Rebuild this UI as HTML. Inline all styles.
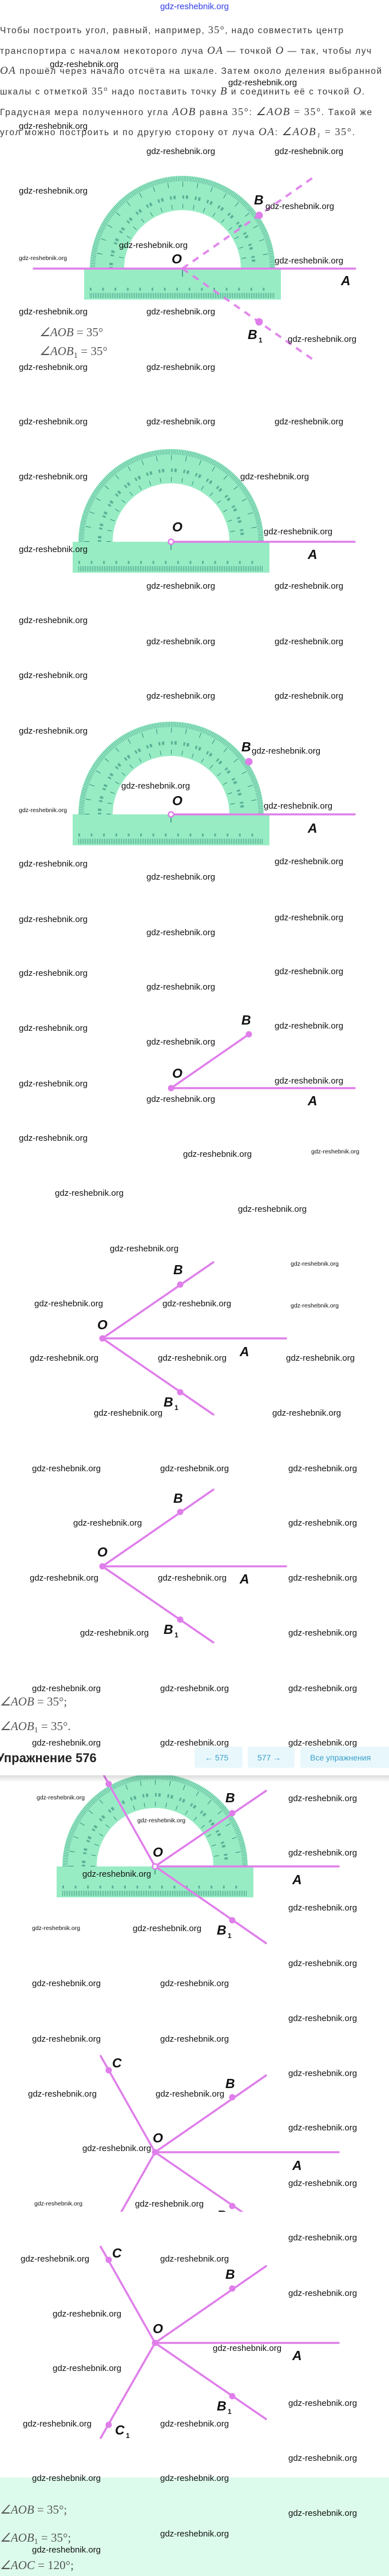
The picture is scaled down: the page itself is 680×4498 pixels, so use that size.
<!DOCTYPE html>
<html><head><meta charset="utf-8"><style>
html,body{margin:0;padding:0;background:#fff;}
svg{display:block;}
.w{font-family:"Liberation Sans",sans-serif;font-size:15px;fill:#111;}
.ws{font-family:"Liberation Sans",sans-serif;font-size:10.5px;fill:#111;}
.p{font-family:"Liberation Sans",sans-serif;font-size:15.5px;fill:#3a3a3a;}
.m{font-family:"Liberation Serif",serif;font-style:italic;}
.mn{font-family:"Liberation Serif",serif;}
.lb{font-family:"Liberation Sans",sans-serif;font-size:23px;font-weight:bold;font-style:italic;fill:#111;}
.sb{font-family:"Liberation Sans",sans-serif;font-size:12px;font-weight:bold;fill:#111;}
.mt{font-family:"Liberation Serif",serif;font-size:21px;fill:#555;}
.pk{stroke:#df7eea;stroke-width:3.5;fill:none;stroke-linecap:round;}
</style></head><body>
<svg width="680" height="4498" viewBox="0 0 680 4498" xmlns="http://www.w3.org/2000/svg">
<defs>
<symbol id="prot" overflow="visible">
  <rect x="-172" y="0" width="344" height="54" fill="#98ecc4"/>
  <path d="M-162 0 A162 162 0 0 1 162 0 Z" fill="#98ecc4"/>
  <path d="M-102 0 A102 102 0 0 1 102 0 Z" fill="#fff"/>
  <path d="M-157 0 A157 157 0 0 1 157 0" fill="none" stroke="#2e8c7a" stroke-width="9" stroke-dasharray="0.7 2.04" opacity="0.8"/>
  <path d="M-147 0 A147 147 0 0 1 147 0" fill="none" stroke="#2e8c7a" stroke-width="9" stroke-dasharray="1 24.66"/>
  <path d="M-125 0 A125 125 0 0 1 125 0" fill="none" stroke="#2e8c7a" stroke-width="6" stroke-dasharray="3 3 4 11.8" opacity="0.6"/>
  <path d="M-109 0 A109 109 0 0 1 109 0" fill="none" stroke="#2e8c7a" stroke-width="8" stroke-dasharray="1 18.02"/>
  <line x1="-162" y1="47" x2="162" y2="47" stroke="#2e8c7a" stroke-width="9" stroke-dasharray="0.8 2.2"/>
  <line x1="-162" y1="36" x2="162" y2="36" stroke="#2e8c7a" stroke-width="5" stroke-dasharray="3 18.6" opacity="0.6"/>
  <line x1="0" y1="0" x2="0" y2="14" stroke="#2e8c7a" stroke-width="1.5"/>
</symbol>
</defs>

<!-- top blue watermark -->
<text x="340" y="16" text-anchor="middle" font-family="Liberation Sans,sans-serif" font-size="15" fill="#3340d8" stroke="#8890ff" stroke-width="0.4">gdz-reshebnik.org</text>

<!-- paragraph -->
<text class="p" x="0" y="58" textLength="600" lengthAdjust="spacing">Чтобы построить угол, равный, например, <tspan class="mn" font-size="18">35°</tspan>, надо совместить центр</text>
<text class="p" x="0" y="94" textLength="649" lengthAdjust="spacing">транспортира с началом некоторого луча <tspan class="m" font-size="19">OA</tspan> — точкой <tspan class="m" font-size="19">O</tspan> — так, чтобы луч</text>
<text class="p" x="0" y="129" textLength="667" lengthAdjust="spacing"><tspan class="m" font-size="19">OA</tspan> прошёл через начало отсчёта на шкале. Затем около деления выбранной</text>
<text class="p" x="0" y="165" textLength="637" lengthAdjust="spacing">шкалы с отметкой <tspan class="mn" font-size="18">35°</tspan> надо поставить точку <tspan class="m" font-size="19">B</tspan> и соединить её с точкой <tspan class="m" font-size="19">O</tspan>.</text>
<text class="p" x="0" y="201" textLength="650" lengthAdjust="spacing">Градусная мера полученного угла <tspan class="m" font-size="19">AOB</tspan> равна <tspan class="mn" font-size="18">35°</tspan>: <tspan class="m" font-size="19">∠AOB</tspan> <tspan class="mn" font-size="18">= 35°</tspan>. Такой же</text>
<text class="p" x="0" y="236" textLength="620" lengthAdjust="spacing">угол можно построить и по другую сторону от луча <tspan class="m" font-size="19">OA</tspan>: <tspan class="m" font-size="19">∠AOB₁</tspan> <tspan class="mn" font-size="18">= 35°</tspan>.</text>

<!-- Figure 1 -->
<use href="#prot" x="319" y="469"/>
<line class="pk" x1="59" y1="469" x2="621" y2="469"/>
<line x1="319" y1="469" x2="553" y2="306" stroke="#df7eea" stroke-width="4" stroke-dasharray="12 10" opacity="0.9"/>
<line x1="319" y1="469" x2="553" y2="632" stroke="#df7eea" stroke-width="4" stroke-dasharray="12 10" opacity="0.9"/>
<circle cx="453" cy="376" r="6.5" fill="#df7eea"/>
<circle cx="453" cy="562" r="6.5" fill="#df7eea"/>
<text class="lb" x="444" y="357">B</text>
<text class="lb" x="300" y="460">O</text>
<text class="lb" x="596" y="498">A</text>
<text class="lb" x="433" y="592">B</text><text class="sb" x="452" y="598">1</text>
<text class="mt" x="69" y="587" font-size="24"><tspan class="m">∠AOB</tspan> = 35°</text>
<text class="mt" x="69" y="620" font-size="24"><tspan class="m">∠AOB</tspan><tspan font-size="15" dy="5">1</tspan><tspan dy="-5"> = 35°</tspan></text>

<!-- Figure 2 -->
<use href="#prot" x="299" y="946"/>
<line class="pk" x1="299" y1="946" x2="620" y2="946"/>
<circle cx="299" cy="946" r="4.5" fill="#fff" stroke="#df7eea" stroke-width="2.5"/>
<text class="lb" x="301" y="928">O</text>
<text class="lb" x="538" y="976">A</text>

<!-- Figure 3 -->
<use href="#prot" x="299" y="1422"/>
<line class="pk" x1="299" y1="1422" x2="620" y2="1422"/>
<circle cx="299" cy="1422" r="4.5" fill="#fff" stroke="#df7eea" stroke-width="2.5"/>
<circle cx="435" cy="1330" r="6.5" fill="#df7eea"/>
<text class="lb" x="422" y="1312">B</text>
<text class="lb" x="301" y="1406">O</text>
<text class="lb" x="538" y="1454">A</text>

<!-- Figure 4 -->
<line class="pk" x1="299" y1="1900" x2="620" y2="1900"/>
<line class="pk" x1="299" y1="1900" x2="435" y2="1806"/>
<circle cx="299" cy="1900" r="5.5" fill="#df7eea"/>
<circle cx="435" cy="1806" r="5.5" fill="#df7eea"/>
<text class="lb" x="422" y="1789">B</text>
<text class="lb" x="301" y="1882">O</text>
<text class="lb" x="538" y="1930">A</text>

<!-- Figure 5 -->
<line class="pk" x1="179" y1="2337" x2="500" y2="2337"/>
<line class="pk" x1="179" y1="2337" x2="373" y2="2204"/>
<line class="pk" x1="179" y1="2337" x2="373" y2="2470"/>
<circle cx="179" cy="2337" r="5.5" fill="#df7eea"/>
<circle cx="315" cy="2243" r="5.5" fill="#df7eea"/>
<circle cx="315" cy="2431" r="5.5" fill="#df7eea"/>
<text class="lb" x="303" y="2225">B</text>
<text class="lb" x="170" y="2321">O</text>
<text class="lb" x="419" y="2368">A</text>
<text class="lb" x="286" y="2456">B</text><text class="sb" x="305" y="2462">1</text>

<!-- Figure 6 -->
<line class="pk" x1="179" y1="2735" x2="500" y2="2735"/>
<line class="pk" x1="179" y1="2735" x2="373" y2="2601"/>
<line class="pk" x1="179" y1="2735" x2="373" y2="2868"/>
<circle cx="179" cy="2735" r="5.5" fill="#df7eea"/>
<circle cx="315" cy="2640" r="5.5" fill="#df7eea"/>
<circle cx="315" cy="2828" r="5.5" fill="#df7eea"/>
<text class="lb" x="303" y="2624">B</text>
<text class="lb" x="170" y="2718">O</text>
<text class="lb" x="419" y="2765">A</text>
<text class="lb" x="286" y="2853">B</text><text class="sb" x="305" y="2859">1</text>

<text class="mt" x="0" y="2978"><tspan class="m">∠AOB</tspan> = 35°;</text>
<text class="mt" x="0" y="3021"><tspan class="m">∠AOB</tspan><tspan font-size="14" dy="4">1</tspan><tspan dy="-4"> = 35°.</tspan></text>

<!-- Figure 7 -->
<use href="#prot" x="271" y="3259"/>
<line class="pk" x1="271" y1="3259" x2="592" y2="3259"/>
<line class="pk" x1="271" y1="3259" x2="465" y2="3127"/>
<line class="pk" x1="271" y1="3259" x2="465" y2="3393"/>
<line class="pk" x1="271" y1="3259" x2="176" y2="3090"/>
<circle cx="271" cy="3259" r="4.5" fill="#fff" stroke="#df7eea" stroke-width="2.5"/>
<circle cx="406" cy="3166" r="5.5" fill="#df7eea"/>
<circle cx="406" cy="3353" r="5.5" fill="#df7eea"/>
<circle cx="190" cy="3115" r="5.5" fill="#df7eea"/>
<text class="lb" x="394" y="3147">B</text>
<text class="lb" x="267" y="3242">O</text>
<text class="lb" x="511" y="3290">A</text>
<text class="lb" x="379" y="3378">B</text><text class="sb" x="398" y="3384">1</text>

<!-- sticky bar -->
<defs><linearGradient id="sh" x1="0" y1="0" x2="0" y2="1"><stop offset="0" stop-color="#000" stop-opacity="0.14"/><stop offset="1" stop-color="#000" stop-opacity="0"/></linearGradient></defs>
<rect x="0" y="3100" width="680" height="12" fill="url(#sh)"/>
<rect x="0" y="3034" width="680" height="66" fill="#fff"/>
<text x="-6" y="3077" font-family="Liberation Sans,sans-serif" font-size="22" font-weight="bold" fill="#222">Упражнение 576</text>
<rect x="340" y="3050" width="84" height="37" rx="4" fill="#e8f7fc"/>
<rect x="433" y="3050" width="82" height="37" rx="4" fill="#e8f7fc"/>
<rect x="525" y="3050" width="160" height="37" rx="4" fill="#e8f7fc"/>
<text x="358" y="3074" font-family="Liberation Sans,sans-serif" font-size="14" fill="#3aa0c8">←  575</text>
<text x="450" y="3074" font-family="Liberation Sans,sans-serif" font-size="14" fill="#3aa0c8">577  →</text>
<text x="542" y="3074" font-family="Liberation Sans,sans-serif" font-size="14" fill="#3aa0c8">Все упражнения</text>

<!-- Figure 8 (clipped) -->
<defs><clipPath id="c8"><rect x="0" y="3500" width="680" height="362"/></clipPath></defs>
<g clip-path="url(#c8)">
<line class="pk" x1="271" y1="3758" x2="592" y2="3758"/>
<line class="pk" x1="271" y1="3758" x2="465" y2="3624"/>
<line class="pk" x1="271" y1="3758" x2="465" y2="3891"/>
<line class="pk" x1="271" y1="3758" x2="176" y2="3590"/>
<line class="pk" x1="271" y1="3758" x2="176" y2="3926"/>
<circle cx="271" cy="3758" r="5.5" fill="#df7eea"/>
<circle cx="406" cy="3662" r="5.5" fill="#df7eea"/>
<circle cx="406" cy="3852" r="5.5" fill="#df7eea"/>
<circle cx="190" cy="3615" r="5.5" fill="#df7eea"/>
<text class="lb" x="196" y="3610">C</text>
<text class="lb" x="394" y="3646">B</text>
<text class="lb" x="267" y="3741">O</text>
<text class="lb" x="511" y="3789">A</text>
<text class="lb" x="379" y="3876">B</text>
</g>

<!-- green section -->
<rect x="0" y="4326" width="680" height="172" fill="#dcfbec"/>

<!-- Figure 9 -->
<line class="pk" x1="271" y1="4091" x2="592" y2="4091"/>
<line class="pk" x1="271" y1="4091" x2="465" y2="3957"/>
<line class="pk" x1="271" y1="4091" x2="465" y2="4224"/>
<line class="pk" x1="271" y1="4091" x2="176" y2="3923"/>
<line class="pk" x1="271" y1="4091" x2="176" y2="4257"/>
<circle cx="271" cy="4091" r="5.5" fill="#df7eea"/>
<circle cx="406" cy="3996" r="5.5" fill="#df7eea"/>
<circle cx="406" cy="4184" r="5.5" fill="#df7eea"/>
<circle cx="190" cy="3946" r="5.5" fill="#df7eea"/>
<circle cx="190" cy="4234" r="5.5" fill="#df7eea"/>
<text class="lb" x="196" y="3942">C</text>
<text class="lb" x="394" y="3979">B</text>
<text class="lb" x="267" y="4074">O</text>
<text class="lb" x="511" y="4121">A</text>
<text class="lb" x="379" y="4209">B</text><text class="sb" x="398" y="4215">1</text>
<text class="lb" x="201" y="4251">C</text><text class="sb" x="220" y="4257">1</text>

<text class="mt" x="0" y="4389"><tspan class="m">∠AOB</tspan> = 35°;</text>
<text class="mt" x="0" y="4438"><tspan class="m">∠AOB</tspan><tspan font-size="14" dy="4">1</tspan><tspan dy="-4"> = 35°;</tspan></text>
<text class="mt" x="0" y="4486"><tspan class="m">∠AOC</tspan> = 120°;</text>

<!-- watermarks -->
<g class="w">
<text x="87" y="117">gdz-reshebnik.org</text><text x="399" y="149">gdz-reshebnik.org</text><text x="33" y="225">gdz-reshebnik.org</text>
<text x="256" y="269">gdz-reshebnik.org</text><text x="480" y="269">gdz-reshebnik.org</text><text x="33" y="338">gdz-reshebnik.org</text>
<text x="464" y="365">gdz-reshebnik.org</text><text x="208" y="433">gdz-reshebnik.org</text><text x="480" y="460">gdz-reshebnik.org</text>
<text x="33" y="549">gdz-reshebnik.org</text><text x="256" y="549">gdz-reshebnik.org</text><text x="503" y="597">gdz-reshebnik.org</text>
<text x="33" y="646">gdz-reshebnik.org</text><text x="256" y="646">gdz-reshebnik.org</text>
<text x="33" y="741">gdz-reshebnik.org</text><text x="256" y="741">gdz-reshebnik.org</text><text x="480" y="741">gdz-reshebnik.org</text>
<text x="33" y="837">gdz-reshebnik.org</text><text x="420" y="837">gdz-reshebnik.org</text><text x="461" y="933">gdz-reshebnik.org</text>
<text x="33" y="964">gdz-reshebnik.org</text><text x="256" y="1028">gdz-reshebnik.org</text><text x="480" y="1028">gdz-reshebnik.org</text>
<text x="33" y="1088">gdz-reshebnik.org</text><text x="256" y="1125">gdz-reshebnik.org</text><text x="480" y="1125">gdz-reshebnik.org</text>
<text x="33" y="1184">gdz-reshebnik.org</text><text x="256" y="1220">gdz-reshebnik.org</text><text x="480" y="1220">gdz-reshebnik.org</text>
<text x="33" y="1281">gdz-reshebnik.org</text><text x="440" y="1316">gdz-reshebnik.org</text><text x="212" y="1377">gdz-reshebnik.org</text>
<text x="461" y="1412">gdz-reshebnik.org</text><text x="33" y="1513">gdz-reshebnik.org</text><text x="480" y="1509">gdz-reshebnik.org</text>
<text x="256" y="1536">gdz-reshebnik.org</text>
<text x="33" y="1610">gdz-reshebnik.org</text><text x="480" y="1607">gdz-reshebnik.org</text><text x="256" y="1633">gdz-reshebnik.org</text>
<text x="33" y="1704">gdz-reshebnik.org</text><text x="480" y="1701">gdz-reshebnik.org</text><text x="256" y="1728">gdz-reshebnik.org</text>
<text x="33" y="1800">gdz-reshebnik.org</text><text x="480" y="1796">gdz-reshebnik.org</text><text x="256" y="1824">gdz-reshebnik.org</text>
<text x="33" y="1897">gdz-reshebnik.org</text><text x="480" y="1892">gdz-reshebnik.org</text><text x="256" y="1924">gdz-reshebnik.org</text>
<text x="33" y="1992">gdz-reshebnik.org</text><text x="320" y="2020">gdz-reshebnik.org</text><text x="96" y="2088">gdz-reshebnik.org</text>
<text x="416" y="2116">gdz-reshebnik.org</text><text x="192" y="2185">gdz-reshebnik.org</text><text x="60" y="2281">gdz-reshebnik.org</text>
<text x="284" y="2281">gdz-reshebnik.org</text><text x="52" y="2376">gdz-reshebnik.org</text><text x="276" y="2376">gdz-reshebnik.org</text>
<text x="500" y="2376">gdz-reshebnik.org</text><text x="164" y="2472">gdz-reshebnik.org</text><text x="476" y="2472">gdz-reshebnik.org</text>
<text x="56" y="2569">gdz-reshebnik.org</text><text x="280" y="2569">gdz-reshebnik.org</text><text x="504" y="2569">gdz-reshebnik.org</text>
<text x="128" y="2664">gdz-reshebnik.org</text><text x="504" y="2664">gdz-reshebnik.org</text>
<text x="52" y="2760">gdz-reshebnik.org</text><text x="276" y="2760">gdz-reshebnik.org</text><text x="504" y="2760">gdz-reshebnik.org</text>
<text x="140" y="2856">gdz-reshebnik.org</text><text x="504" y="2856">gdz-reshebnik.org</text>
<text x="56" y="2953">gdz-reshebnik.org</text><text x="280" y="2953">gdz-reshebnik.org</text><text x="504" y="2953">gdz-reshebnik.org</text>
<text x="56" y="3048">gdz-reshebnik.org</text><text x="280" y="3048">gdz-reshebnik.org</text><text x="504" y="3048">gdz-reshebnik.org</text>
<text x="504" y="3145">gdz-reshebnik.org</text><text x="504" y="3240">gdz-reshebnik.org</text><text x="144" y="3277">gdz-reshebnik.org</text>
<text x="504" y="3336">gdz-reshebnik.org</text><text x="232" y="3372">gdz-reshebnik.org</text><text x="504" y="3433">gdz-reshebnik.org</text>
<text x="56" y="3468">gdz-reshebnik.org</text><text x="280" y="3468">gdz-reshebnik.org</text>
<text x="504" y="3529">gdz-reshebnik.org</text><text x="56" y="3565">gdz-reshebnik.org</text><text x="280" y="3565">gdz-reshebnik.org</text>
<text x="504" y="3625">gdz-reshebnik.org</text><text x="49" y="3661">gdz-reshebnik.org</text><text x="272" y="3661">gdz-reshebnik.org</text>
<text x="504" y="3720">gdz-reshebnik.org</text><text x="144" y="3756">gdz-reshebnik.org</text><text x="504" y="3817">gdz-reshebnik.org</text>
<text x="236" y="3853">gdz-reshebnik.org</text><text x="504" y="3912">gdz-reshebnik.org</text><text x="36" y="3949">gdz-reshebnik.org</text>
<text x="280" y="3949">gdz-reshebnik.org</text><text x="504" y="4009">gdz-reshebnik.org</text><text x="92" y="4045">gdz-reshebnik.org</text>
<text x="372" y="4105">gdz-reshebnik.org</text><text x="92" y="4140">gdz-reshebnik.org</text><text x="504" y="4201">gdz-reshebnik.org</text>
<text x="40" y="4237">gdz-reshebnik.org</text><text x="280" y="4237">gdz-reshebnik.org</text><text x="504" y="4297">gdz-reshebnik.org</text>
<text x="56" y="4332">gdz-reshebnik.org</text><text x="280" y="4332">gdz-reshebnik.org</text><text x="504" y="4393">gdz-reshebnik.org</text>
<text x="280" y="4429">gdz-reshebnik.org</text><text x="56" y="4457">gdz-reshebnik.org</text>
</g>
<g class="ws">
<text x="33" y="454">gdz-reshebnik.org</text><text x="33" y="1418">gdz-reshebnik.org</text>
<text x="544" y="2014">gdz-reshebnik.org</text><text x="508" y="2210">gdz-reshebnik.org</text><text x="508" y="2283">gdz-reshebnik.org</text>
<text x="64" y="3142">gdz-reshebnik.org</text><text x="240" y="3182">gdz-reshebnik.org</text><text x="56" y="3370">gdz-reshebnik.org</text>
<text x="60" y="3851">gdz-reshebnik.org</text>
</g>
</svg>
</body></html>
